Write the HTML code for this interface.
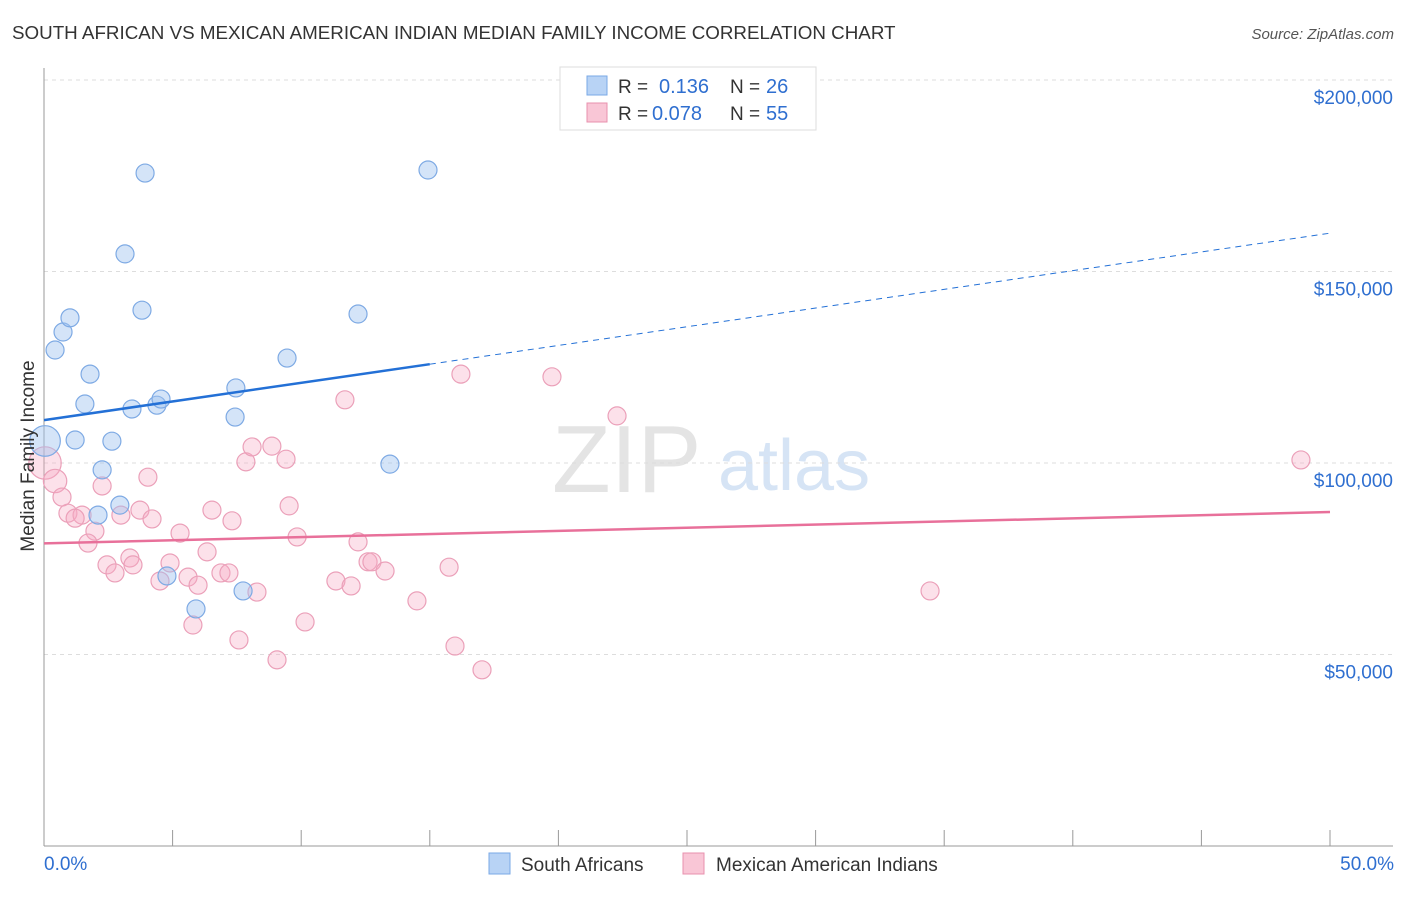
<!DOCTYPE html>
<html><head><meta charset="utf-8"><style>
body{margin:0;background:#fff;font-family:"Liberation Sans",sans-serif;}
svg text{font-family:"Liberation Sans",sans-serif;}
</style></head><body>
<svg id="chart" width="1406" height="892" viewBox="0 0 1406 892">
<text x="12" y="39" font-size="18.8" fill="#333">SOUTH AFRICAN VS MEXICAN AMERICAN INDIAN MEDIAN FAMILY INCOME CORRELATION CHART</text>
<text x="1394" y="39" font-size="15" fill="#555" text-anchor="end" font-style="italic">Source: ZipAtlas.com</text>
<g>
<text x="552" y="492" font-size="96" fill="#e4e4e4" font-family="Liberation Serif" >ZIP</text>
<text x="718" y="490" font-size="72" fill="#d6e4f5">atlas</text>
</g>
<g id="grid"></g>
<g id="axes"></g>
<g id="marks"></g>
<g id="trends"></g>
<g>
<rect x="560" y="67" width="256" height="63" fill="#fff" stroke="#ddd"/>
<rect x="587" y="76" width="20" height="19" fill="#b8d3f5" stroke="#7aa8e6"/>
<rect x="587" y="103" width="20" height="19" fill="#f9c6d6" stroke="#e890ae"/>
<text x="618" y="93" font-size="19" fill="#333">R =</text>
<text x="659" y="93" font-size="20" fill="#2f6fd0">0.136</text>
<text x="730" y="93" font-size="19" fill="#333">N =</text>
<text x="766" y="93" font-size="20" fill="#2f6fd0">26</text>
<text x="618" y="120" font-size="19" fill="#333">R =</text>
<text x="652" y="120" font-size="20" fill="#2f6fd0">0.078</text>
<text x="730" y="120" font-size="19" fill="#333">N =</text>
<text x="766" y="120" font-size="20" fill="#2f6fd0">55</text>
</g>
<g>
<rect x="489" y="853" width="21" height="21" fill="#b8d3f5" stroke="#7aa8e6"/>
<text x="521" y="871" font-size="19" fill="#333">South Africans</text>
<rect x="683" y="853" width="21" height="21" fill="#f9c6d6" stroke="#e890ae"/>
<text x="716" y="871" font-size="19" fill="#333">Mexican American Indians</text>
</g>
<text transform="translate(34,456) rotate(-90)" font-size="19" fill="#333" text-anchor="middle">Median Family Income</text>
</svg>
<script>
const yTicks=[50000,100000,150000,200000];
const yTickLabels=["$50,000","$100,000","$150,000","$200,000"];
const xTickLabels=["0.0%","50.0%"];
const blueX=[0.04,0.43,0.74,1.01,1.59,1.79,1.21,2.26,2.64,2.10,2.95,3.42,3.93,3.15,3.81,4.39,4.55,4.78,5.91,7.46,7.43,7.74,9.45,12.21,13.45,14.93];
const blueY=[105750,129500,134200,137900,115400,123200,106000,98200,105700,86400,89000,114100,175700,154600,139900,115100,116700,70500,61900,119600,112000,66600,127400,138900,99700,176500];
const blueSize=[1.7,1,1,1,1,1,1,1,1,1,1,1,1,1,1,1,1,1,1,1,1,1,1,1,1,1];
const pinkX=[0.04,0.43,0.70,0.93,1.48,1.21,1.98,1.71,2.26,2.99,3.73,4.20,4.04,2.45,2.76,3.34,3.46,4.90,4.51,5.29,5.60,5.99,6.34,5.79,6.53,7.31,6.88,7.19,7.58,7.85,8.09,8.86,9.41,8.28,9.53,9.84,9.06,10.15,11.35,11.94,11.70,12.21,12.60,12.75,13.26,14.50,15.75,15.98,16.21,17.03,19.75,22.28,34.45,48.87];
const pinkY=[100000,95300,91100,86900,86400,85600,82200,79100,94000,86400,87700,85400,96300,73400,71300,75200,73400,73900,69200,81700,70200,68100,76800,57700,87700,84900,71300,71300,53800,100300,104200,104400,101000,66300,88800,80700,48600,58500,69200,67900,116500,79400,74200,74200,71800,64000,72800,52200,123200,46000,122500,112300,66600,100800];
const pinkSize=[1.8,1.3,1,1,1,1,1,1,1,1,1,1,1,1,1,1,1,1,1,1,1,1,1,1,1,1,1,1,1,1,1,1,1,1,1,1,1,1,1,1,1,1,1,1,1,1,1,1,1,1,1,1,1,1];
const blueTrend=[[0,111200],[15,125800],[50,160000]];
const pinkTrend=[[0,79000],[50,87200]];
const NS="http://www.w3.org/2000/svg";
const X=v=>44+v/50*1286;
const Y=v=>846-v/50000*191.5;
function mk(tag,attrs,parent){const e=document.createElementNS(NS,tag);for(const k in attrs)e.setAttribute(k,attrs[k]);document.getElementById(parent).appendChild(e);return e;}
yTicks.forEach((t,i)=>{
 const l=mk('line',{x1:44,x2:1393,y1:Y(t),y2:Y(t),stroke:'#ddd','stroke-dasharray':'4,4'},'grid');
 
 
 const tx=mk('text',{x:1393,y:Y(t)+24,'font-size':19,fill:'#2f6fd0','text-anchor':'end'},'axes');
 tx.textContent=yTickLabels[i];
 
 
});
const ax=mk('line',{x1:44,x2:44,y1:68,y2:846,stroke:'#999'},'axes');


const bx=mk('line',{x1:44,x2:1393,y1:846,y2:846,stroke:'#999'},'axes');


for(let i=0;i<=10;i++){
 const tk=mk('line',{x1:X(i*5),x2:X(i*5),y1:830,y2:846,stroke:'#999'},'axes');
 
 
}
const xl0=mk('text',{x:44,y:870,'font-size':19,fill:'#2f6fd0'},'axes');xl0.textContent=xTickLabels[0];


const xl1=mk('text',{x:1394,y:870,'font-size':19,fill:'#2f6fd0','text-anchor':'end'},'axes');xl1.textContent=xTickLabels[1];


pinkX.forEach((v,i)=>{
 const c=mk('circle',{cx:X(v),cy:Y(pinkY[i]),r:9*pinkSize[i],fill:'rgba(245,170,195,0.35)',stroke:'#eba0b9','stroke-width':1.2},'marks');
 
 
});
blueX.forEach((v,i)=>{
 const c=mk('circle',{cx:X(v),cy:Y(blueY[i]),r:9*blueSize[i],fill:'rgba(160,196,240,0.45)',stroke:'#7eaae4','stroke-width':1.2},'marks');
 
 
});
const b1=mk('line',{x1:X(blueTrend[0][0]),y1:Y(blueTrend[0][1]),x2:X(blueTrend[1][0]),y2:Y(blueTrend[1][1]),stroke:'#2370d6','stroke-width':2.5},'trends');


const b2=mk('line',{x1:X(blueTrend[1][0]),y1:Y(blueTrend[1][1]),x2:X(blueTrend[2][0]),y2:Y(blueTrend[2][1]),stroke:'#2370d6','stroke-width':1,'stroke-dasharray':'6,5'},'trends');


const p1=mk('line',{x1:X(pinkTrend[0][0]),y1:Y(pinkTrend[0][1]),x2:X(pinkTrend[1][0]),y2:Y(pinkTrend[1][1]),stroke:'#e8709a','stroke-width':2.5},'trends');


</script>
</body></html>
